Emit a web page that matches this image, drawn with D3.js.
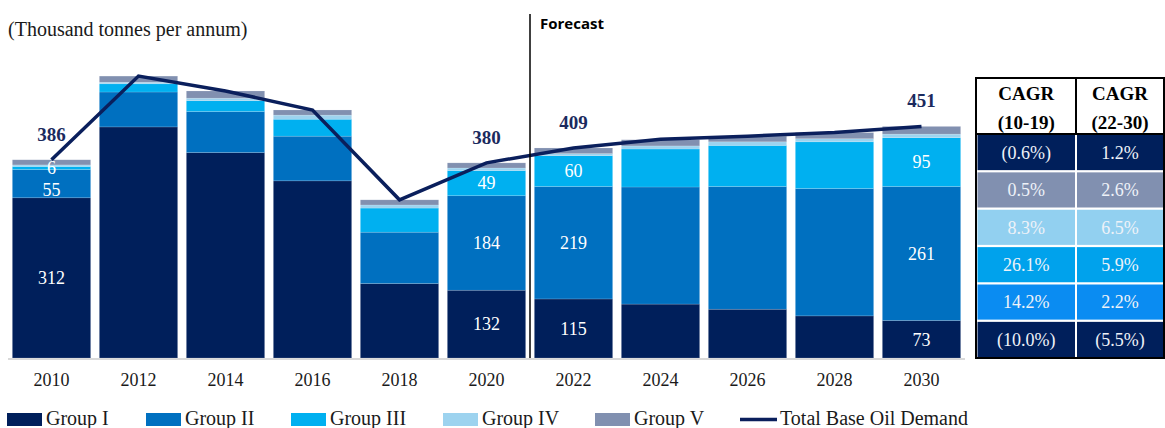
<!DOCTYPE html>
<html>
<head>
<meta charset="utf-8">
<script src="https://cdn.jsdelivr.net/npm/d3@7"></script>
<style>
  html, body { margin: 0; padding: 0; background: #fff; }
  svg { display: block; }
</style>
</head>
<body>
<svg id="chart" width="1165" height="428"></svg>
<script>
// ---- data ----
const years = ["2010","2012","2014","2016","2018","2020","2022","2024","2026","2028","2030"];
const groupI   = [312, 450, 400, 345, 145, 132, 115, 105,  95,  82,  73];
const groupII  = [ 55,  68,  80,  87, 100, 184, 219, 228, 239, 248, 261];
const groupIII = [  6,  16,  21,  33,  47,  49,  60,  74,  80,  91,  95];
const groupIV  = [  3,   3,   5,   8,   6,   5,   4,   6,   7,   6,   7];
const groupV   = [ 10,  12,  14,  10,  10,  10,  11,  12,  11,  12,  15];
const totalDemand = [386, 549, 520, 483, 308, 380, 409, 426, 432, 439, 451];
const seriesNames = ["Group I", "Group II", "Group III", "Group IV", "Group V"];
const lineName = "Total Base Oil Demand";
const totalLabelYears = ["2010", "2020", "2022", "2030"];
const segmentLabelYears = ["2010", "2020", "2022", "2030"];
const forecastStart = "2022";
const unitLabel = "(Thousand tonnes per annum)";
const forecastLabel = "Forecast";
const cagrHeaders = [["CAGR", "(10-19)"], ["CAGR", "(22-30)"]];
const cagr1019 = ["(0.6%)", "0.5%", "8.3%", "26.1%", "14.2%", "(10.0%)"];
const cagr2230 = ["1.2%", "2.6%", "6.5%", "5.9%", "2.2%", "(5.5%)"];

// ---- styles ----
const colors = ["#001f5b", "#0070c0", "#00b0f0", "#9dd3ef", "#8190b0"];
const lineColor = "#0a1f5c";
const tableRowColors = ["#001f5b", "#8190b0", "#92d0f0", "#00a2ec", "#0a8cf2", "#001f5b"];
const serif = "'Liberation Serif', 'Times New Roman', serif";

const svg = d3.select("#chart");

const seriesArrays = [groupI, groupII, groupIII, groupIV, groupV];
const rows = years.map((y, i) => {
  const r = { year: y };
  seriesNames.forEach((s, k) => r[s] = seriesArrays[k][i]);
  return r;
});
const stacked = d3.stack().keys(seriesNames)(rows);

const x = d3.scaleBand().domain(years).range([8, 965]).paddingInner(0.1).paddingOuter(0.05);
const y = d3.scaleLinear().domain([0, 560]).range([358, 358 - 560 * 0.5135]);

// baseline
svg.append("line")
  .attr("x1", 8).attr("x2", 965)
  .attr("y1", y(0) + 1).attr("y2", y(0) + 1)
  .attr("stroke", "#d9d9d9").attr("stroke-width", 2);

// bars
const layer = svg.append("g").selectAll("g").data(stacked).join("g")
  .attr("fill", (d, i) => colors[i]);
layer.selectAll("rect").data(d => d).join("rect")
  .attr("x", d => x(d.data.year))
  .attr("width", x.bandwidth())
  .attr("y", d => y(d[1]))
  .attr("height", d => y(d[0]) - y(d[1]))
  .attr("stroke", "rgba(255,255,255,0.25)")
  .attr("stroke-width", 0.6);

// segment labels (Group I-III), placed top-down so small segments don't collide
const segLabels = [];
years.forEach((yr, i) => {
  if (!segmentLabelYears.includes(yr)) return;
  let prevY = -Infinity;
  [2, 1, 0].forEach(k => {
    const d = stacked[k][i];
    let ly = (y(d[0]) + y(d[1])) / 2;
    if (ly < prevY + 22) ly = prevY + 22;
    prevY = ly;
    segLabels.push({ x: x(yr) + x.bandwidth() / 2, y: ly, v: seriesArrays[k][i] });
  });
});
svg.append("g").selectAll("text").data(segLabels).join("text")
  .attr("x", d => d.x)
  .attr("y", d => d.y)
  .attr("dy", "0.35em")
  .attr("text-anchor", "middle")
  .attr("fill", "#ffffff")
  .attr("font-family", serif)
  .attr("font-size", 18)
  .text(d => d.v);

// total line
const linePts = years.map((yr, i) => [x(yr) + x.bandwidth() / 2, y(totalDemand[i])]);
svg.append("path")
  .attr("d", d3.line()(linePts))
  .attr("fill", "none")
  .attr("stroke", lineColor)
  .attr("stroke-width", 3.5)
  .attr("stroke-linejoin", "miter");

// total labels
svg.append("g").selectAll("text")
  .data(years.map((yr, i) => ({ yr, v: totalDemand[i] })).filter(d => totalLabelYears.includes(d.yr)))
  .join("text")
  .attr("x", d => x(d.yr) + x.bandwidth() / 2)
  .attr("y", d => y(d.v) - 19)
  .attr("text-anchor", "middle")
  .attr("fill", "#1b2a5e")
  .attr("font-family", serif)
  .attr("font-weight", "bold")
  .attr("font-size", 19)
  .text(d => d.v);

// forecast divider
const fx = x(forecastStart) - (x.step() - x.bandwidth()) / 2;
svg.append("line")
  .attr("x1", fx).attr("x2", fx)
  .attr("y1", 14).attr("y2", y(0))
  .attr("stroke", "#000").attr("stroke-width", 1.5);
svg.append("text")
  .attr("x", fx + 10).attr("y", 29)
  .attr("font-family", "'Open Sans', 'Liberation Sans', sans-serif")
  .attr("font-weight", "bold")
  .attr("font-size", 15)
  .attr("fill", "#000")
  .text(forecastLabel);

// unit label
svg.append("text")
  .attr("x", 8).attr("y", 36)
  .attr("font-family", serif)
  .attr("font-size", 20)
  .attr("fill", "#1a1a1a")
  .text(unitLabel);

// x axis
const xAxis = svg.append("g")
  .attr("transform", `translate(0,${y(0)})`)
  .call(d3.axisBottom(x).tickSize(0).tickPadding(12));
xAxis.select(".domain").remove();
xAxis.selectAll("text")
  .attr("font-family", serif)
  .attr("font-size", 18)
  .attr("fill", "#1a1a1a")
  .attr("dy", "0.9em");

// legend
const legendItems = seriesNames.map((n, i) => ({ name: n, color: colors[i], type: "rect" }))
  .concat([{ name: lineName, color: lineColor, type: "line" }]);
const legendX = [7, 146, 291, 443, 595, 740];
const lg = svg.append("g").selectAll("g").data(legendItems).join("g")
  .attr("transform", (d, i) => `translate(${legendX[i]},0)`);
lg.filter(d => d.type === "rect").append("rect")
  .attr("x", 0).attr("y", 413).attr("width", 35).attr("height", 13)
  .attr("fill", d => d.color);
lg.filter(d => d.type === "line").append("line")
  .attr("x1", 0).attr("x2", 37).attr("y1", 419.5).attr("y2", 419.5)
  .attr("stroke", d => d.color).attr("stroke-width", 3.5);
lg.append("text")
  .attr("x", (d) => d.type === "line" ? 40 : 39)
  .attr("y", 425)
  .attr("font-family", serif)
  .attr("font-size", 20)
  .attr("fill", "#1a1a1a")
  .text(d => d.name);

// ---- CAGR table ----
const tLeft = 976, tRight = 1164, tTop = 78, tBottom = 358, headBottom = 134, colDiv = 1076;
const tbl = svg.append("g");
tbl.append("rect")
  .attr("x", tLeft).attr("y", tTop)
  .attr("width", tRight - tLeft).attr("height", tBottom - tTop)
  .attr("fill", "#fff").attr("stroke", "#000").attr("stroke-width", 2);

const rowScale = d3.scaleBand().domain(d3.range(cagr1019.length))
  .range([headBottom + 1, tBottom - 1]).paddingInner(0.06);
const cols = [
  { x0: tLeft + 1.5, x1: colDiv - 1, vals: cagr1019, head: cagrHeaders[0] },
  { x0: colDiv + 1, x1: tRight - 1, vals: cagr2230, head: cagrHeaders[1] }
];
cols.forEach(c => {
  tbl.append("g").selectAll("rect").data(c.vals).join("rect")
    .attr("x", c.x0).attr("width", c.x1 - c.x0)
    .attr("y", (d, i) => rowScale(i)).attr("height", rowScale.bandwidth())
    .attr("fill", (d, i) => tableRowColors[i]);
  tbl.append("g").selectAll("text").data(c.vals).join("text")
    .attr("x", (c.x0 + c.x1) / 2)
    .attr("y", (d, i) => rowScale(i) + rowScale.bandwidth() / 2)
    .attr("dy", "0.35em")
    .attr("text-anchor", "middle")
    .attr("fill", "#eef2f8")
    .attr("font-family", serif)
    .attr("font-size", 18)
    .text(d => d);
  tbl.append("text")
    .attr("x", (c.x0 + c.x1) / 2).attr("y", 100)
    .attr("text-anchor", "middle")
    .attr("font-family", serif).attr("font-weight", "bold").attr("font-size", 19)
    .attr("fill", "#000").text(c.head[0]);
  tbl.append("text")
    .attr("x", (c.x0 + c.x1) / 2).attr("y", 129)
    .attr("text-anchor", "middle")
    .attr("font-family", serif).attr("font-weight", "bold").attr("font-size", 19)
    .attr("fill", "#000").text(c.head[1]);
});
tbl.append("line").attr("x1", tLeft).attr("x2", tRight).attr("y1", headBottom).attr("y2", headBottom)
  .attr("stroke", "#000").attr("stroke-width", 2);
tbl.append("line").attr("x1", colDiv).attr("x2", colDiv).attr("y1", tTop).attr("y2", headBottom)
  .attr("stroke", "#000").attr("stroke-width", 2);
</script>
</body>
</html>
